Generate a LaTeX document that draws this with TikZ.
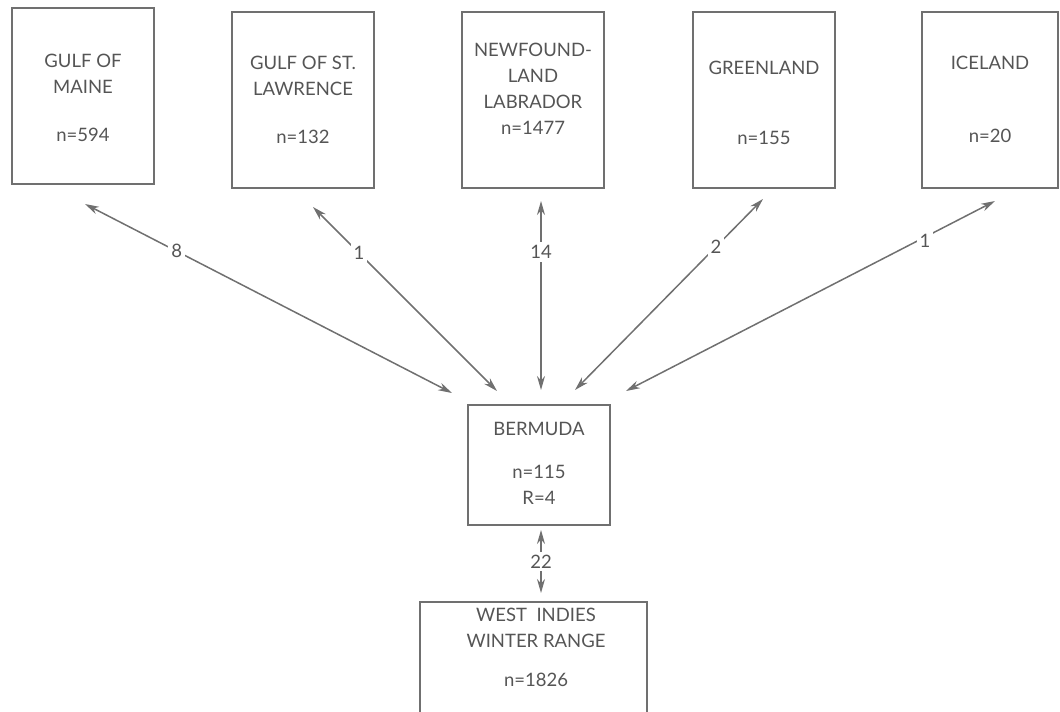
\documentclass[tikz,border=0pt]{standalone}
\usepackage{fontspec}
\setmainfont{Lato}
\usetikzlibrary{arrows.meta}
\definecolor{ln}{HTML}{707070}
\definecolor{tx}{HTML}{555555}
\begin{document}
\begin{tikzpicture}[x=1pt,y=-1pt,
  box/.style={draw=ln, line width=1.8pt, minimum width=142pt, inner sep=0pt},
  txt/.style={text=tx, font=\fontsize{18.5}{26}\selectfont, align=center, inner sep=0pt},
  num/.style={text=tx, font=\fontsize{18.5}{26}\selectfont, fill=white, inner sep=3pt},
  link/.style={ln, line width=1.5pt, {Stealth[length=14pt,width=8pt]}-{Stealth[length=14pt,width=8pt]}}]
\useasboundingbox (0,0) rectangle (1060,712);
% boxes
\node[box, minimum height=176pt] (maine) at (83,96) {};
\node[box, minimum height=176pt] (stl) at (303,100) {};
\node[box, minimum height=176pt] (nfl) at (533,100) {};
\node[box, minimum height=176pt] (grl) at (764,100) {};
\node[box, minimum height=176pt, minimum width=136pt] (ice) at (990,100) {};
\node[box, minimum height=120pt] (ber) at (539,465) {};
\node[box, minimum height=130pt, minimum width=227pt] (wi) at (533.5,667) {};
% texts
\node[txt] (t1) at (83,74) {GULF OF\\MAINE};
\node[txt] (n1) at (83,135) {n=594};
\node[txt] (t2) at (303,76) {GULF OF ST.\\LAWRENCE};
\node[txt] (n2) at (303,137) {n=132};
\node[txt] (t3) at (533,89) {NEWFOUND-\\LAND\\LABRADOR\\n=1477};
\node[txt] (t4) at (764,68) {GREENLAND};
\node[txt] (n4) at (764,138) {n=155};
\node[txt] (t5) at (990,63) {ICELAND};
\node[txt] (n5) at (990,136) {n=20};
\node[txt] (t6) at (539,429) {BERMUDA};
\node[txt] (n6) at (539,485) {n=115\\R=4};
\node[txt] (t7) at (536,628) {WEST\ \ INDIES\\WINTER RANGE};
\node[txt] (n7) at (536,680) {n=1826};
% arrow ends
\coordinate (a1) at (85,204);  \coordinate (b1) at (452,393);
\coordinate (a2) at (313,207); \coordinate (b2) at (497,391);
\coordinate (a3) at (541,201); \coordinate (b3) at (541,390);
\coordinate (a4) at (763,199); \coordinate (b4) at (575,390);
\coordinate (a5) at (995,201); \coordinate (b5) at (626,391);
\coordinate (a6) at (541,530); \coordinate (b6) at (541,593);
\draw[link] (a1) -- node[num, pos=0.25] {8} (b1);
\draw[link] (a2) -- node[num, pos=0.25] {1} (b2);
\draw[link] (a3) -- node[num, pos=0.27] {14} (b3);
\draw[link] (a4) -- node[num, pos=0.25] {2} (b4);
\draw[link] (a5) -- node[num, pos=0.19, yshift=-4pt] {1} (b5);
\draw[link] (a6) -- node[num, pos=0.5] {22} (b6);
\end{tikzpicture}
\end{document}
